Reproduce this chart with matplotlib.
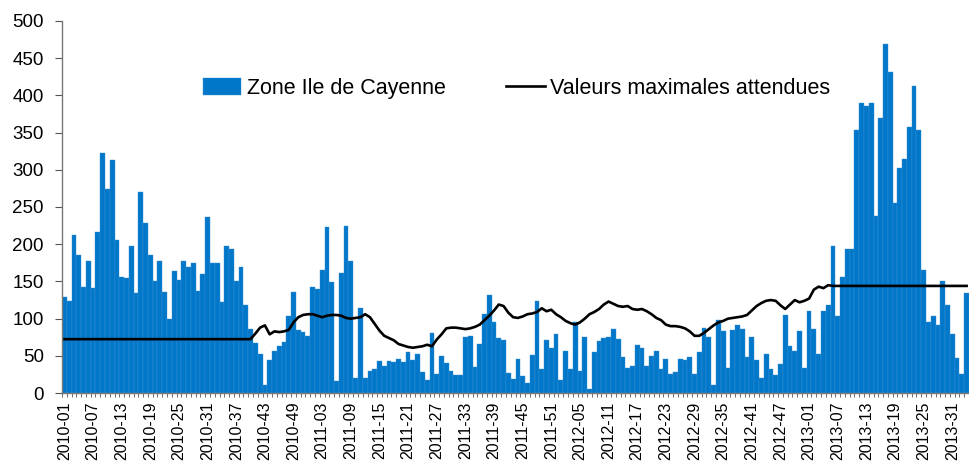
import matplotlib.pyplot as plt
from matplotlib.ticker import FixedLocator

plt.rcParams["font.family"] = ["Liberation Sans", "DejaVu Sans"]

# weekly labels 2010-01 .. 2013-34
years = [2010, 2011, 2012, 2013]
weeks_per_year = [52, 52, 52, 34]
week_labels = [f"{y}-{w:02d}" for y, n in zip(years, weeks_per_year) for w in range(1, n + 1)]

# cases per week, Zone Ile de Cayenne
cases = [
    129, 124, 212, 186, 142, 177, 141, 217, 323, 274,
    313, 205, 156, 155, 198, 135, 270, 229, 186, 150,
    177, 136, 100, 164, 152, 178, 170, 175, 137, 160,
    237, 175, 175, 123, 197, 194, 151, 170, 119, 86,
    68, 53, 11, 45, 57, 63, 69, 104, 136, 85,
    82, 77, 143, 140, 166, 223, 149, 16, 161, 225,
    178, 21, 115, 21, 30, 32, 43, 37, 43, 42,
    46, 42, 55, 45, 52, 28, 18, 81, 26, 50,
    41, 30, 25, 24, 76, 77, 35, 66, 106, 132,
    96, 74, 72, 27, 19, 46, 23, 14, 51, 124,
    32, 71, 60, 79, 18, 56, 33, 95, 30, 75,
    6, 55, 70, 74, 76, 86, 73, 48, 34, 36,
    65, 61, 37, 50, 56, 33, 46, 26, 28, 46,
    45, 48, 26, 55, 88, 75, 11, 98, 84, 34,
    85, 92, 86, 48, 75, 44, 21, 53, 32, 25,
    39, 105, 63, 56, 83, 34, 110, 86, 53, 110,
    118, 198, 104, 156, 194, 194, 353, 390, 385, 390,
    238, 370, 469, 431, 256, 303, 315, 357, 412, 354,
    165, 96, 104, 91, 151, 118, 79, 47, 26, 134,
]

# expected maximum values
max_expected = [
    72.5, 72.5, 72.5, 72.5, 72.5, 72.5, 72.5, 72.5, 72.5, 72.5,
    72.5, 72.5, 72.5, 72.5, 72.5, 72.5, 72.5, 72.5, 72.5, 72.5,
    72.5, 72.5, 72.5, 72.5, 72.5, 72.5, 72.5, 72.5, 72.5, 72.5,
    72.5, 72.5, 72.5, 72.5, 72.5, 72.5, 72.5, 72.5, 72.5, 72.5,
    80, 88, 91, 79, 83, 82, 83, 85, 95, 102,
    105, 106, 106, 104, 102, 104, 105, 105, 104, 101,
    100, 101, 102, 106, 102, 93, 84, 77, 74, 71,
    66, 64, 62, 61, 62, 63, 65, 63, 72, 79,
    87, 88, 88, 87, 86, 87, 89, 92, 98, 104,
    111, 119, 117, 108, 102, 101, 103, 106, 107, 109,
    114, 110, 112, 106, 102, 97, 94, 92, 95, 100,
    106, 109, 113, 119, 123, 120, 117, 116, 117, 113,
    112, 113, 110, 106, 101, 98, 92, 90, 90, 89,
    87, 83, 77, 77, 81, 86, 91, 95, 97, 100,
    101, 102, 103, 105, 111, 117, 121, 124, 125, 124,
    118, 113, 119, 125, 122, 124, 127, 139, 143, 141,
    145, 144, 144, 144, 144, 144, 144, 144, 144, 144,
    144, 144, 144, 144, 144, 144, 144, 144, 144, 144,
    144, 144, 144, 144, 144, 144, 144, 144, 144, 144,
]

x = list(range(len(cases)))

fig = plt.figure(figsize=(9.69, 4.62), dpi=100)
ax = fig.add_axes([0.064, 0.149, 0.936, 0.806])

bars = ax.bar(x, cases, width=1.0, color="#0077C8", edgecolor="#3E93D4", linewidth=0.3,
              label="Zone Ile de Cayenne")
line, = ax.plot(x, max_expected, color="black", linewidth=1.9,
                label="Valeurs maximales attendues")

ax.set_xlim(-0.5, len(cases) - 0.5)
ax.set_ylim(0, 500)
ax.set_yticks(range(0, 501, 50))

major = x[::6]
ax.set_xticks(major)
ax.set_xticklabels([week_labels[i] for i in major], rotation=90, fontsize=11.5)
ax.tick_params(axis="x", which="major", length=0, pad=6)
ax.xaxis.set_minor_locator(FixedLocator([i - 0.5 for i in x]))
ax.tick_params(axis="x", which="minor", length=3, width=0.6, color="#555555")
ax.tick_params(axis="y", labelsize=13.5, length=5, width=0.8, color="#555555", pad=8)

for side in ["top", "right"]:
    ax.spines[side].set_visible(False)
for side in ["left", "bottom"]:
    ax.spines[side].set_color("#777777")
    ax.spines[side].set_linewidth(1.0)

fig.legend([bars, line], ["Zone Ile de Cayenne", "Valeurs maximales attendues"],
           loc="center", bbox_to_anchor=(0.533, 0.808), ncol=2, frameon=False,
           fontsize=15.5, handlelength=1.8, handleheight=0.8, handletextpad=0.25,
           columnspacing=2.8)

fig.savefig("out.png", dpi=100)
